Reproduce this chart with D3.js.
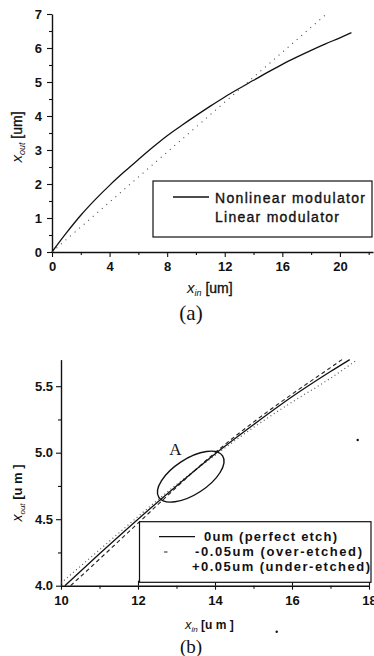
<!DOCTYPE html>
<html>
<head>
<meta charset="utf-8">
<script src="https://cdn.jsdelivr.net/npm/d3@7/dist/d3.min.js"></script>
<style>
  html, body { margin: 0; padding: 0; background: #fff; }
  svg { display: block; }
  text { font-family: "Liberation Sans", Arial, sans-serif; fill: #111; }
  .serif { font-family: "Liberation Serif", "Times New Roman", serif; }
</style>
</head>
<body>
<svg id="chart" width="374" height="656"></svg>
<script>
// ---------- Panel (a) data ----------
const aNonlinearX = [0, 1, 2, 3, 4, 5, 6, 7, 8, 9, 10, 11, 12, 13, 14, 15, 16, 17, 18, 19, 20, 20.8];
const aNonlinearY = [0, 0.56, 1.08, 1.54, 1.96, 2.35, 2.72, 3.08, 3.42, 3.72, 4.01, 4.29, 4.56, 4.81, 5.05, 5.29, 5.52, 5.73, 5.93, 6.12, 6.30, 6.45];
const aLinearX = [0, 19.2];
const aLinearY = [0, 7.05];
const aXTicks = [0, 4, 8, 12, 16, 20];
const aXMinor = [2, 6, 10, 14, 18, 22];
const aYTicks = [0, 1, 2, 3, 4, 5, 6, 7];
const aYMinor = [0.5, 1.5, 2.5, 3.5, 4.5, 5.5, 6.5];
const aLegend = ["Nonlinear modulator", "Linear modulator"];

// ---------- Panel (b) data ----------
const bPerfectX = [10.1, 11, 12, 13, 14, 15, 16, 17, 17.5];
const bPerfectY = [4.00, 4.24, 4.50, 4.75, 4.99, 5.21, 5.42, 5.61, 5.70];
const bOverX = [10.25, 11, 12, 13, 14, 15, 16, 17, 17.3];
const bOverY = [4.00, 4.20, 4.47, 4.74, 5.00, 5.23, 5.44, 5.64, 5.70];
const bUnderX = [10.0, 11, 12, 13, 14, 15, 16, 17, 17.7];
const bUnderY = [4.02, 4.27, 4.52, 4.76, 4.98, 5.19, 5.38, 5.56, 5.70];
const bXTicks = [10, 12, 14, 16, 18];
const bXMinor = [11, 13, 15, 17];
const bYTicks = [4.0, 4.5, 5.0, 5.5];
const bYMinor = [4.25, 4.75, 5.25];
const bLegend = ["0um (perfect etch)", "-0.05um (over-etched)", "+0.05um (under-etched)"];
const bEllipse = { cx: 13.37, cy: 4.82 };

const svg = d3.select("#chart");
svg.append("rect").attr("width", 374).attr("height", 656).attr("fill", "#fff");

function zip(xs, ys) { return xs.map((x, i) => [x, ys[i]]); }

// ================= Panel (a) =================
const ax = d3.scaleLinear().domain([0, 22.3]).range([52, 373]);
const ay = d3.scaleLinear().domain([0, 7]).range([252, 14]);
const ga = svg.append("g");

ga.append("g").attr("transform", "translate(0,252)")
  .call(d3.axisBottom(ax).tickValues(aXMinor).tickSize(3).tickSizeOuter(0).tickFormat(""))
  .call(g => g.select(".domain").remove());
ga.append("g").attr("transform", "translate(52,0)")
  .call(d3.axisLeft(ay).tickValues(aYMinor).tickSize(3).tickSizeOuter(0).tickFormat(""))
  .call(g => g.select(".domain").remove());
const axA = ga.append("g").attr("transform", "translate(0,252)")
  .call(d3.axisBottom(ax).tickValues(aXTicks).tickSize(5).tickSizeOuter(0).tickPadding(5).tickFormat(d3.format("d")));
const ayA = ga.append("g").attr("transform", "translate(52,0)")
  .call(d3.axisLeft(ay).tickValues(aYTicks).tickSize(5).tickSizeOuter(0).tickPadding(5).tickFormat(d3.format("d")));
[axA, ayA].forEach(g => {
  g.selectAll("text").attr("font-size", 13).attr("font-weight", "bold")
    .attr("font-family", "Liberation Sans, Arial, sans-serif").attr("fill", "#111");
});
ga.selectAll(".domain").attr("stroke", "#111").attr("stroke-width", 1.4);
ga.selectAll(".tick line").attr("stroke", "#111").attr("stroke-width", 1.1);

const lineA = d3.line().x(d => ax(d[0])).y(d => ay(d[1])).curve(d3.curveMonotoneX);
ga.append("path").datum(zip(aNonlinearX, aNonlinearY))
  .attr("d", lineA).attr("fill", "none").attr("stroke", "#111").attr("stroke-width", 1.3);
ga.append("path").datum(zip(aLinearX, aLinearY))
  .attr("d", d3.line().x(d => ax(d[0])).y(d => ay(d[1])))
  .attr("fill", "none").attr("stroke", "#444").attr("stroke-width", 1.1)
  .attr("stroke-dasharray", "1,5");

// legend (a)
ga.append("rect").attr("x", 153).attr("y", 181).attr("width", 219).attr("height", 56)
  .attr("fill", "#fff").attr("stroke", "#111").attr("stroke-width", 1.2);
ga.append("line").attr("x1", 173).attr("x2", 209).attr("y1", 197).attr("y2", 197)
  .attr("stroke", "#111").attr("stroke-width", 1.3);
ga.selectAll(".lega").data(aLegend).join("text")
  .attr("x", 215).attr("y", (d, i) => 203 + i * 19)
  .attr("font-size", 14).attr("stroke", "#111").attr("stroke-width", 0.35)
  .attr("textLength", (d, i) => i === 0 ? 150 : 124).attr("lengthAdjust", "spacing")
  .text(d => d);

// axis titles (a)
const xtA = ga.append("text").attr("x", 187).attr("y", 293).attr("font-size", 15);
xtA.append("tspan").attr("font-style", "italic").text("x");
xtA.append("tspan").attr("font-style", "italic").attr("font-size", 9).attr("dy", 3).text("in");
xtA.append("tspan").attr("dy", -3).attr("font-size", 14).attr("stroke", "#111").attr("stroke-width", 0.35).text(" [um]");

const ytA = ga.append("text").attr("transform", "translate(22,137) rotate(-90)")
  .attr("text-anchor", "middle").attr("font-size", 15);
ytA.append("tspan").attr("font-style", "italic").text("x");
ytA.append("tspan").attr("font-style", "italic").attr("font-size", 9).attr("dy", 3).text("out");
ytA.append("tspan").attr("dy", -3).attr("font-size", 14).attr("stroke", "#111").attr("stroke-width", 0.35).text(" [um]");

ga.append("text").attr("class", "serif").attr("x", 191).attr("y", 320)
  .attr("text-anchor", "middle").attr("font-size", 21).text("(a)");

// ================= Panel (b) =================
const bx = d3.scaleLinear().domain([10, 18]).range([61, 369]);
const by = d3.scaleLinear().domain([4.0, 5.7]).range([585.7, 359.6]);
const gb = svg.append("g");

gb.append("g").attr("transform", "translate(0,585.7)")
  .call(d3.axisBottom(bx).tickValues(bXMinor).tickSize(3).tickSizeOuter(0).tickFormat(""))
  .call(g => g.select(".domain").remove());
gb.append("g").attr("transform", "translate(61,0)")
  .call(d3.axisLeft(by).tickValues(bYMinor).tickSize(3).tickSizeOuter(0).tickFormat(""))
  .call(g => g.select(".domain").remove());
gb.append("g").attr("transform", "translate(0,585.7)")
  .call(d3.axisTop(bx).tickValues(bXTicks).tickSize(5).tickSizeOuter(0).tickFormat(""))
  .call(g => g.select(".domain").remove());
const axB = gb.append("g").attr("transform", "translate(0,585.7)")
  .call(d3.axisBottom(bx).tickValues(bXTicks).tickSize(4).tickSizeOuter(0).tickPadding(6).tickFormat(d3.format("d")));
const ayB = gb.append("g").attr("transform", "translate(61,0)")
  .call(d3.axisLeft(by).tickValues(bYTicks).tickSize(5).tickSizeOuter(0).tickPadding(3).tickFormat(d3.format(".1f")));
[axB, ayB].forEach(g => {
  g.selectAll("text").attr("font-size", 13).attr("font-weight", "bold")
    .attr("font-family", "Liberation Sans, Arial, sans-serif").attr("fill", "#111");
});
gb.selectAll(".domain").attr("stroke", "#111").attr("stroke-width", 1.4);
gb.selectAll(".tick line").attr("stroke", "#111").attr("stroke-width", 1.1);

const lineB = d3.line().x(d => bx(d[0])).y(d => by(d[1])).curve(d3.curveMonotoneX);
gb.append("path").datum(zip(bUnderX, bUnderY)).attr("d", lineB)
  .attr("fill", "none").attr("stroke", "#555").attr("stroke-width", 1.2).attr("stroke-dasharray", "1,3");
gb.append("path").datum(zip(bOverX, bOverY)).attr("d", lineB)
  .attr("fill", "none").attr("stroke", "#222").attr("stroke-width", 1.1).attr("stroke-dasharray", "4,3");
gb.append("path").datum(zip(bPerfectX, bPerfectY)).attr("d", lineB)
  .attr("fill", "none").attr("stroke", "#111").attr("stroke-width", 1.3);

gb.append("ellipse")
  .attr("transform", `translate(${bx(bEllipse.cx)},${by(bEllipse.cy)}) rotate(-33)`)
  .attr("rx", 38).attr("ry", 17.7)
  .attr("fill", "none").attr("stroke", "#111").attr("stroke-width", 1.4);
gb.append("text").attr("class", "serif").attr("x", 175.5).attr("y", 455)
  .attr("text-anchor", "middle").attr("font-size", 17).text("A");

// legend (b)
gb.append("rect").attr("x", 139.5).attr("y", 521.7).attr("width", 231.5).attr("height", 60.6)
  .attr("fill", "#fff").attr("stroke", "#111").attr("stroke-width", 1.2);
gb.append("line").attr("x1", 159).attr("x2", 195).attr("y1", 536.7).attr("y2", 536.7)
  .attr("stroke", "#111").attr("stroke-width", 1.3);
gb.append("line").attr("x1", 164).attr("x2", 167.5).attr("y1", 552).attr("y2", 552)
  .attr("stroke", "#333").attr("stroke-width", 1.1);
const bLegX = [204, 195, 192];
const bLegW = [133, 167, 178];
gb.selectAll(".legb").data(bLegend).join("text")
  .attr("x", (d, i) => bLegX[i]).attr("y", (d, i) => 541 + i * 15)
  .attr("font-size", 13).attr("font-weight", "bold")
  .attr("textLength", (d, i) => bLegW[i]).attr("lengthAdjust", "spacing")
  .text(d => d);

// axis titles (b)
const xtB = gb.append("text").attr("x", 185).attr("y", 629).attr("font-size", 13);
xtB.append("tspan").attr("font-style", "italic").text("x");
xtB.append("tspan").attr("font-style", "italic").attr("font-size", 8).attr("dy", 2.5).text("in");
xtB.append("tspan").attr("dy", -2.5).attr("font-size", 12).attr("font-weight", "bold").text(" [u m ]");

const ytB = gb.append("text").attr("transform", "translate(22,493) rotate(-90)")
  .attr("text-anchor", "middle").attr("font-size", 14);
ytB.append("tspan").attr("font-style", "italic").text("x");
ytB.append("tspan").attr("font-style", "italic").attr("font-size", 8).attr("dy", 3).text("out");
ytB.append("tspan").attr("dy", -3).attr("font-size", 13).attr("font-weight", "bold").text(" [u m ]");

gb.append("text").attr("class", "serif").attr("x", 191).attr("y", 653)
  .attr("text-anchor", "middle").attr("font-size", 19).text("(b)");

// scan specks
const specks = [[357.7, 440], [276.7, 631.7]];
svg.selectAll(".speck").data(specks).join("circle")
  .attr("cx", d => d[0]).attr("cy", d => d[1]).attr("r", 1.2).attr("fill", "#111");
</script>
</body>
</html>
